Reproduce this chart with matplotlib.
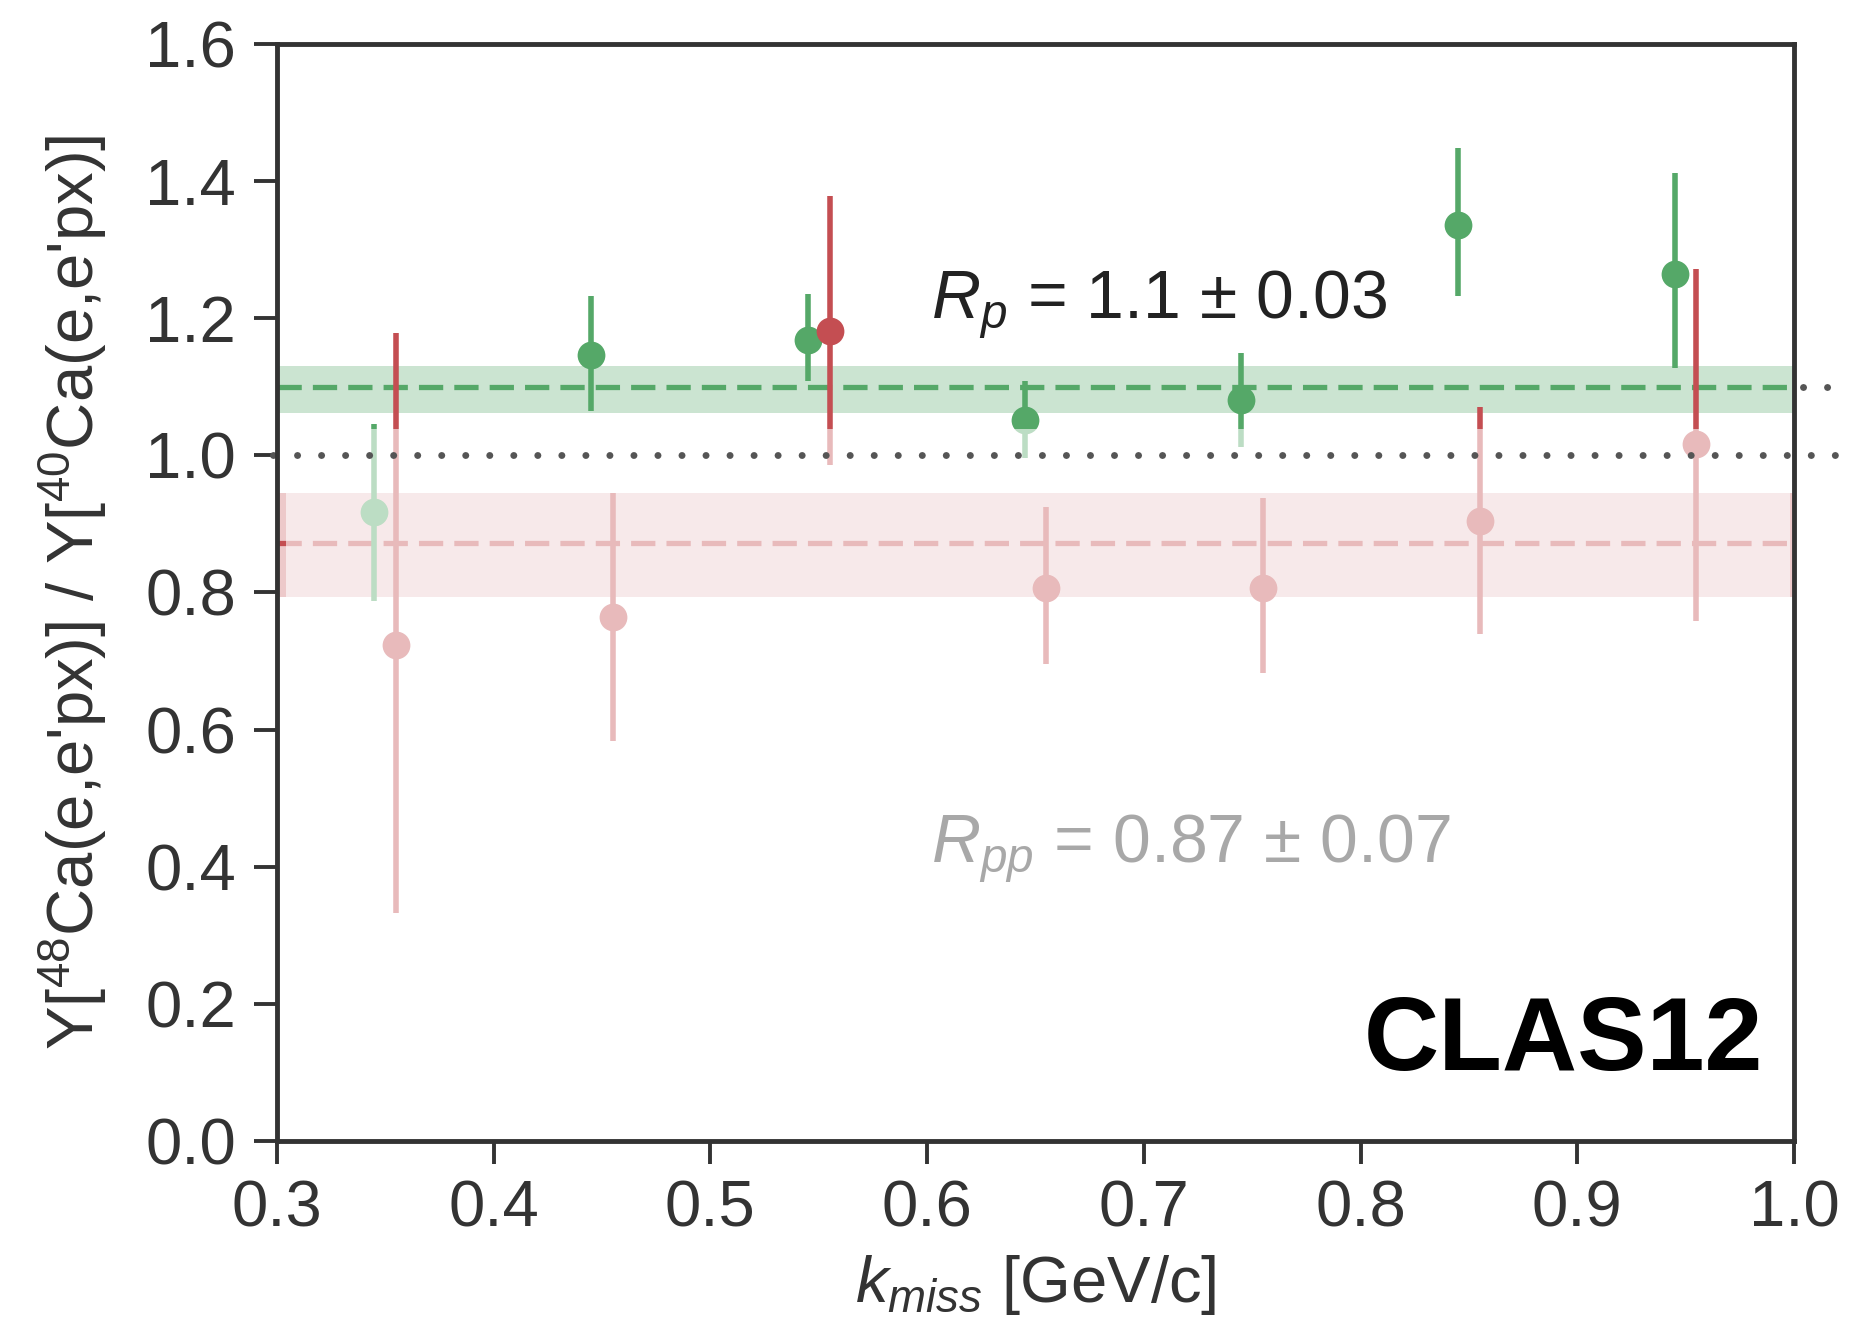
import numpy as np
import matplotlib
matplotlib.use('Agg')
import matplotlib.pyplot as plt
from matplotlib.patches import Rectangle

plt.rcParams['font.family'] = ['Liberation Sans', 'DejaVu Sans']
plt.rcParams['mathtext.fontset'] = 'custom'
plt.rcParams['mathtext.rm'] = 'Liberation Sans'
plt.rcParams['mathtext.it'] = 'Liberation Sans:italic'
plt.rcParams['mathtext.bf'] = 'Liberation Sans:bold'

# (e,e'p) ratio, green
kmiss_p = [0.345, 0.445, 0.545, 0.645, 0.745, 0.845, 0.945]
ratio_p = [0.917, 1.146, 1.168, 1.051, 1.081, 1.336, 1.265]
err_p_lo = [0.129, 0.081, 0.060, 0.055, 0.069, 0.104, 0.137]
err_p_hi = [0.129, 0.086, 0.068, 0.058, 0.068, 0.113, 0.147]

# (e,e'pp) ratio, red
kmiss_pp = [0.355, 0.455, 0.555, 0.655, 0.755, 0.855, 0.955]
ratio_pp = [0.724, 0.764, 1.181, 0.807, 0.807, 0.904, 1.016]
err_pp_lo = [0.392, 0.181, 0.195, 0.111, 0.124, 0.165, 0.258]
err_pp_hi = [0.454, 0.181, 0.197, 0.118, 0.131, 0.166, 0.256]

# fitted averages and bands
Rp, Rp_lo, Rp_hi = 1.10, 1.062, 1.131
Rpp, Rpp_lo, Rpp_hi = 0.872, 0.793, 0.945

green = '#55a868'
red = '#c44e52'
dark = '#333333'

fig = plt.figure(figsize=(18.5, 13.29), dpi=100)
ax = fig.add_axes([0.1497, 0.1415, 0.8200, 0.8254])

# bands
ax.fill_between([0.3, 1.0], Rp_lo, Rp_hi, color=green, alpha=0.3, lw=0, zorder=1)
ax.axhline(Rp, color=green, lw=3.8, dashes=(4.6, 2.1), zorder=2)
ax.fill_between([0.3, 1.0], Rpp_lo, Rpp_hi, color=red, alpha=0.3, lw=0, zorder=1)
ax.axhline(Rpp, color=red, lw=3.8, dashes=(4.6, 2.1), zorder=2)

ax.errorbar(kmiss_p, ratio_p, yerr=[err_p_lo, err_p_hi], fmt='o', color=green,
            ms=20, mew=0, elinewidth=4, capsize=0, zorder=3)
ax.errorbar(kmiss_pp, ratio_pp, yerr=[err_pp_lo, err_pp_hi], fmt='o', color=red,
            ms=20, mew=0, elinewidth=4, capsize=0, zorder=3)

ax.text(0.602, 1.2, '$R_p$ = 1.1 \u00b1 0.03', fontsize=49, color='#222222',
        ha='left', va='baseline', zorder=4)
ax.text(0.602, 0.406, '$R_{pp}$ = 0.87 \u00b1 0.07', fontsize=49, color='#222222',
        ha='left', va='baseline', zorder=4)

# washed-out region over the lower part
ax.add_patch(Rectangle((0.304, -0.05), 0.998 - 0.304, 1.038 + 0.05,
                       facecolor='white', edgecolor='none', alpha=0.61, zorder=5))

# unity reference line, runs past the frame
ax.plot([0.298, 1.0236], [1.0, 1.0], color='#555555', lw=5,
        linestyle=(0, (0.01, 3.45)), dash_capstyle='round', clip_on=False, zorder=6)
ax.plot([1.004, 1.0236], [1.1, 1.1], color='#555555', lw=5,
        linestyle=(0, (0.01, 3.45)), dash_capstyle='round', clip_on=False, zorder=6)

ax.text(0.986, 0.103, 'CLAS12', fontsize=75, fontweight='bold', color='black',
        ha='right', va='baseline', zorder=7)

ax.set_xlim(0.3, 1.0)
ax.set_ylim(0.0, 1.6)
ax.set_xticks(np.arange(0.3, 1.001, 0.1))
ax.set_yticks(np.arange(0.0, 1.601, 0.2))
ax.set_xticklabels([f'{v:.1f}' for v in np.arange(0.3, 1.001, 0.1)])
ax.set_yticklabels([f'{v:.1f}' for v in np.arange(0.0, 1.601, 0.2)])
ax.tick_params(direction='out', length=16.5, width=2.8, color=dark,
               labelsize=47, labelcolor=dark)
ax.tick_params(axis='y', pad=13)
ax.tick_params(axis='x', pad=11)
for s in ax.spines.values():
    s.set_linewidth(3.5)
    s.set_color(dark)
    s.set_zorder(8)

ax.set_xlabel(r'$k_{miss}$ [GeV/c]', fontsize=47, color=dark, labelpad=10)
ax.set_ylabel("Y[$^{48}$Ca(e,e'px)] / Y[$^{40}$Ca(e,e'px)]", fontsize=47,
              color=dark, labelpad=26)

fig.savefig('out.png', dpi=100)
